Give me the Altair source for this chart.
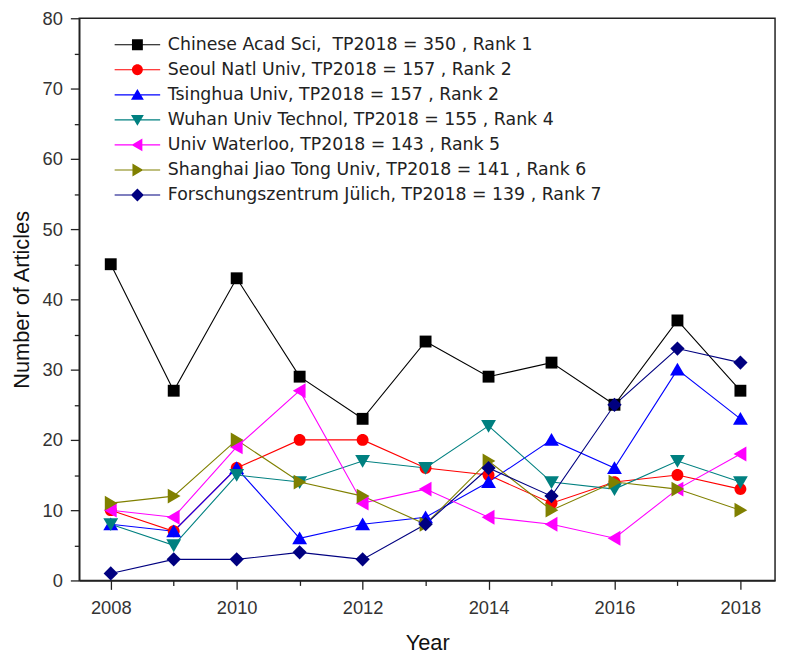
import altair as alt
import pandas as pd

years = list(range(2008, 2019))

labels = [
    "Chinese Acad Sci,\u00a0 TP2018 = 350 , Rank 1",
    "Seoul Natl Univ, TP2018 = 157 , Rank 2",
    "Tsinghua Univ, TP2018 = 157 , Rank 2",
    "Wuhan Univ Technol, TP2018 = 155 , Rank 4",
    "\u00a0Univ Waterloo, TP2018 = 143 , Rank 5",
    "Shanghai Jiao Tong Univ, TP2018 = 141 , Rank 6",
    "Forschungszentrum Jülich, TP2018 = 139 , Rank 7",
]

cas = [45, 27, 43, 29, 23, 34, 29, 31, 25, 37, 27]
snu = [10, 7, 16, 20, 20, 16, 15, 11, 14, 15, 13]
tsinghua = [8, 7, 16, 6, 8, 9, 14, 20, 16, 30, 23]
wuhan = [8, 5, 15, 14, 17, 16, 22, 14, 13, 17, 14]
waterloo = [10, 9, 19, 27, 11, 13, 9, 8, 6, 13, 18]
sjtu = [11, 12, 20, 14, 12, 8, 17, 10, 14, 13, 10]
juelich = [1, 3, 3, 4, 3, 8, 16, 12, 25, 33, 31]

series = [cas, snu, tsinghua, wuhan, waterloo, sjtu, juelich]

colors = ["#000000", "#FF0000", "#0000FF", "#008080", "#FF00FF", "#808000", "#000080"]

# marker outlines in unit coordinates (square = side 2)
marker_paths = [
    "M-1,-1H1V1H-1Z",
    "M-1,0A1,1,0,1,1,1,0A1,1,0,1,1,-1,0Z",
    "M0,-1.15L1.25,1H-1.25Z",
    "M0,1.15L-1.25,-1H1.25Z",
    "M-1.15,0L1,-1.25V1.25Z",
    "M1.15,0L-1,1.25V-1.25Z",
    "M0,-1.2L1.2,0L0,1.2L-1.2,0Z",
]
line_part = "M-4.6,-0.11H4.6V0.11H-4.6Z"
legend_marker_paths = [
    "M-1.1,-1.1H1.1V1.1H-1.1Z",
    "M-1.1,0A1.1,1.1,0,1,1,1.1,0A1.1,1.1,0,1,1,-1.1,0Z",
    "M0,-1.2L1.3,1H-1.3Z",
    "M0,1.2L-1.3,-1H1.3Z",
    "M-1.2,0L1,-1.3V1.3Z",
    "M1.2,0L-1,1.3V-1.3Z",
    "M0,-1.3L1.3,0L0,1.3L-1.3,0Z",
]
legend_paths = [m + " " + line_part for m in legend_marker_paths]

rows = []
for lab, vals in zip(labels, series):
    for yr, v in zip(years, vals):
        rows.append({"year": yr, "org": lab, "value": v})
df = pd.DataFrame(rows)

FONT = "Liberation Sans"

x_enc = alt.X(
    "year:Q",
    scale=alt.Scale(domain=[2007.5, 2018.55], nice=False, zero=False),
    axis=alt.Axis(
        title="Year",
        values=years,
        format="d",
        labelExpr="datum.value % 2 == 0 ? datum.label : ''",
        tickSize={"condition": {"test": "datum.value % 2 == 0", "value": 9}, "value": 5},
        grid=False,
        labelPadding=9,
        titlePadding=16,
    ),
)
y_enc = alt.Y(
    "value:Q",
    scale=alt.Scale(domain=[0, 80], nice=False),
    axis=alt.Axis(
        title="Number of Articles",
        values=list(range(0, 81, 5)),
        labelExpr="datum.value % 10 == 0 ? datum.label : ''",
        tickSize={"condition": {"test": "datum.value % 10 == 0", "value": 9}, "value": 5},
        grid=False,
        labelPadding=8,
        titlePadding=9,
    ),
)

color_scale = alt.Scale(domain=labels, range=colors)

base = alt.Chart(df)

lines = base.mark_line(strokeWidth=1.1).encode(
    x=x_enc, y=y_enc,
    color=alt.Color("org:N", scale=color_scale, legend=None),
)

points = base.mark_point(filled=True, size=144, opacity=1).encode(
    x=x_enc, y=y_enc,
    color=alt.Color("org:N", scale=color_scale, legend=None),
    shape=alt.Shape("org:N", scale=alt.Scale(domain=labels, range=marker_paths), legend=None),
)

leg = alt.Legend(
    title=None,
    orient="none",
    legendX=32,
    legendY=18,
    labelFontSize=17.5,
    labelFont="DejaVu Sans",
    labelColor="#222222",
    labelLimit=600,
    symbolSize=100,
    symbolOffset=18,
    labelOffset=22,
    rowPadding=6.3,
    padding=0,
)

legend_layer = base.transform_filter("datum.value < 0").mark_point(
    filled=True, opacity=1, size=100
).encode(
    x=x_enc, y=y_enc,
    color=alt.Color("org:N", scale=color_scale, legend=leg),
    shape=alt.Shape("org:N", scale=alt.Scale(domain=labels, range=legend_paths), legend=leg),
)

chart = alt.layer(lines, points, legend_layer).resolve_scale(
    color="independent", shape="independent"
).properties(
    width=703,
    height=568,
    autosize=alt.AutoSizeParams(type="none"),
    padding={"left": 72, "top": 7, "right": 4, "bottom": 78},
).configure_view(
    stroke="#222222", strokeWidth=1.5
).configure_axis(
    labelFont=FONT,
    labelFontSize=18.5,
    labelColor="#333333",
    titleFont=FONT,
    titleFontSize=22,
    titleFontWeight="normal",
    titleColor="#111111",
    domainColor="#222222",
    domainWidth=1.5,
    tickColor="#222222",
    tickWidth=1.3,
)

chart.save("out.html", embed_options={"renderer": "svg", "actions": False})
